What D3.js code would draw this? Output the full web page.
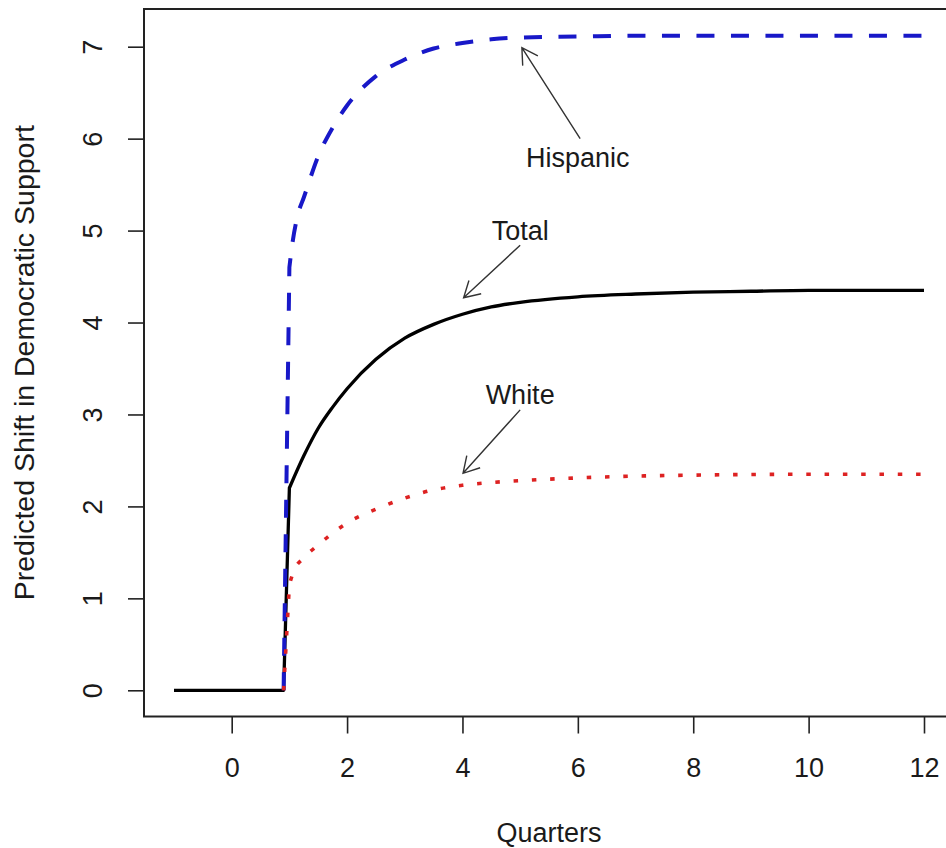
<!DOCTYPE html>
<html>
<head>
<meta charset="utf-8">
<script src="https://cdn.jsdelivr.net/npm/d3@7"></script>
<style>
  body { margin: 0; background: #fff; }
  text { font-family: "Liberation Sans", Arial, sans-serif; fill: #1a1a1a; }
</style>
</head>
<body>
<div id="chart"></div>
<script>
// values (quarters vs predicted shift)
const totalQuarters = [-1, 0.9, 1.0, 1.25, 1.5, 1.75, 2, 2.5, 3, 3.5, 4, 4.5, 5, 6, 7, 8, 9, 10, 11, 12];
const totalShift    = [0, 0, 2.2, 2.55, 2.85, 3.08, 3.28, 3.6, 3.83, 3.98, 4.09, 4.17, 4.22, 4.28, 4.31, 4.33, 4.34, 4.35, 4.35, 4.35];

const hispanicQuarters = [0.9, 1.0, 1.05, 1.15, 1.25, 1.5, 1.75, 2, 2.5, 3, 3.5, 4, 4.5, 5, 6, 7, 8, 10, 12];
const hispanicShift    = [0, 4.6, 4.85, 5.18, 5.36, 5.81, 6.12, 6.36, 6.68, 6.86, 6.98, 7.04, 7.08, 7.10, 7.11, 7.12, 7.12, 7.12, 7.12];

const whiteQuarters = [0.9, 1.0, 1.07, 1.25, 1.5, 1.75, 2, 2.5, 3, 3.5, 4, 4.5, 5, 6, 7, 8, 10, 12];
const whiteShift    = [0, 1.15, 1.29, 1.44, 1.58, 1.71, 1.82, 1.97, 2.09, 2.18, 2.23, 2.26, 2.28, 2.31, 2.33, 2.34, 2.35, 2.35];

const xTicks = [0, 2, 4, 6, 8, 10, 12];
const yTicks = [0, 1, 2, 3, 4, 5, 6, 7];

// annotations: label position and arrow tail -> tip, in data units
const noteLabels = ['Hispanic', 'Total', 'White'];
const noteTextAt = [[6, 5.8], [5, 5.0], [5, 3.22]];
const noteArrows = [[[6.04, 6.0], [5.03, 6.99]], [[5.0, 4.84], [4.02, 4.27]], [[5.0, 3.05], [4.01, 2.36]]];

const W = 946, H = 848;
const svg = d3.select('#chart').append('svg')
    .attr('width', W)
    .attr('height', H);

const x = d3.scaleLinear().domain([-1.52, 12.52]).range([144, 954]);
const y = d3.scaleLinear().domain([-0.285, 7.41]).range([716.5, 9]);

const fontSize = 27;

// frame
svg.append('rect')
    .attr('x', x.range()[0]).attr('y', y.range()[1])
    .attr('width', x.range()[1] - x.range()[0])
    .attr('height', y.range()[0] - y.range()[1])
    .attr('fill', 'none')
    .attr('stroke', '#222')
    .attr('stroke-width', 2);

// x axis
const xAxis = svg.append('g')
    .attr('transform', `translate(0,${y.range()[0]})`)
    .call(d3.axisBottom(x).tickValues(xTicks).tickSize(17).tickPadding(0).tickFormat(d3.format('d')));
xAxis.select('.domain').remove();
xAxis.selectAll('line').attr('stroke', '#222').attr('stroke-width', 1.6);
xAxis.selectAll('text')
    .attr('y', 60).attr('dy', 0)
    .style('font-size', fontSize + 'px')
    .attr('fill', '#1a1a1a');

// y axis, labels parallel to the axis
const yAxis = svg.append('g')
    .attr('transform', `translate(${x.range()[0]},0)`)
    .call(d3.axisLeft(y).tickValues(yTicks).tickSize(16).tickFormat(d3.format('d')));
yAxis.select('.domain').remove();
yAxis.selectAll('line').attr('stroke', '#222').attr('stroke-width', 1.6);
yAxis.selectAll('text')
    .attr('transform', 'rotate(-90)')
    .attr('x', 0).attr('y', -42).attr('dy', 0)
    .attr('text-anchor', 'middle')
    .style('font-size', fontSize + 'px')
    .attr('fill', '#1a1a1a');

// axis titles
svg.append('text')
    .attr('x', (x.range()[0] + x.range()[1]) / 2)
    .attr('y', 842)
    .attr('text-anchor', 'middle')
    .style('font-size', fontSize + 'px')
    .text('Quarters');

svg.append('text')
    .attr('transform', `translate(34,${(y.range()[0] + y.range()[1]) / 2}) rotate(-90)`)
    .attr('text-anchor', 'middle')
    .style('font-size', '28.5px')
    .text('Predicted Shift in Democratic Support');

// series: straight jump up to quarter 1, smooth after
const stepLine = d3.line().x(d => x(d[0])).y(d => y(d[1]));
const smoothLine = d3.line().x(d => x(d[0])).y(d => y(d[1])).curve(d3.curveMonotoneX);
function seriesPath(data) {
    const pre = data.filter(d => d[0] <= 1);
    const post = data.filter(d => d[0] >= 1);
    return stepLine(pre) + smoothLine(post).replace(/^M/, 'L');
}

const totalData = d3.zip(totalQuarters, totalShift);
const hispanicData = d3.zip(hispanicQuarters, hispanicShift);
const whiteData = d3.zip(whiteQuarters, whiteShift);

const plot = svg.append('g');

plot.append('path') // Total
    .attr('d', seriesPath(totalData))
    .attr('fill', 'none')
    .attr('stroke', '#000')
    .attr('stroke-width', 3.3)
    .attr('stroke-linejoin', 'round');

plot.append('path') // Hispanic
    .attr('d', seriesPath(hispanicData))
    .attr('fill', 'none')
    .attr('stroke', '#1818c8')
    .attr('stroke-width', 4)
    .attr('stroke-dasharray', '18,16.5');

plot.append('path') // White
    .attr('d', seriesPath(whiteData))
    .attr('fill', 'none')
    .attr('stroke', '#dd2222')
    .attr('stroke-width', 3.6)
    .attr('stroke-dasharray', '4.5,13.8');

// annotations
const headLen = 18, headAngle = Math.PI / 6;
noteArrows.forEach(([from, to]) => {
    const x0 = x(from[0]), y0 = y(from[1]);
    const x1 = x(to[0]), y1 = y(to[1]);
    const ang = Math.atan2(y1 - y0, x1 - x0);
    const wing = s => [x1 - headLen * Math.cos(ang + s * headAngle), y1 - headLen * Math.sin(ang + s * headAngle)];
    const w1 = wing(1), w2 = wing(-1);
    plot.append('path')
        .attr('d', `M${x0},${y0}L${x1},${y1}M${w1[0]},${w1[1]}L${x1},${y1}L${w2[0]},${w2[1]}`)
        .attr('fill', 'none')
        .attr('stroke', '#333')
        .attr('stroke-width', 1.4);
});

noteLabels.forEach((label, i) => {
    svg.append('text')
        .attr('x', x(noteTextAt[i][0]))
        .attr('y', y(noteTextAt[i][1]) + 9.5)
        .attr('text-anchor', 'middle')
        .style('font-size', fontSize + 'px')
        .text(label);
});
</script>
</body>
</html>
